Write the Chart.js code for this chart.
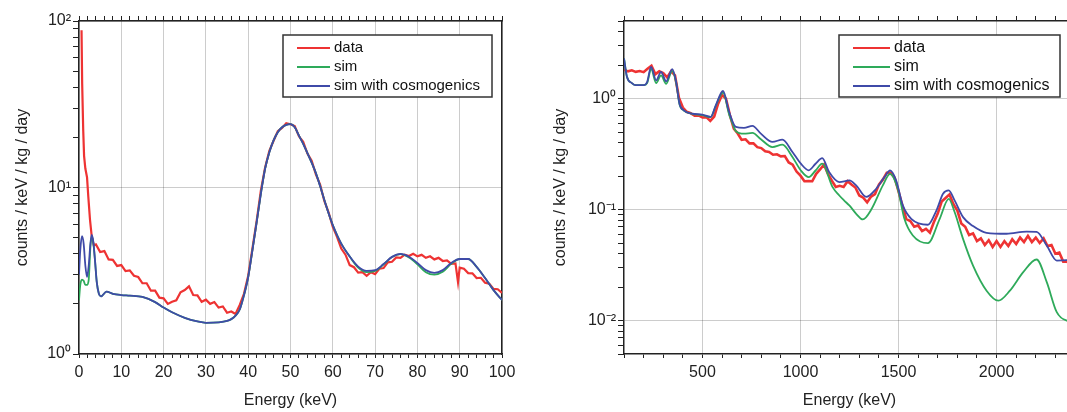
<!DOCTYPE html>
<html>
<head>
<meta charset="utf-8">
<script src="https://cdn.jsdelivr.net/npm/chart.js@4"></script>
<style>
  html, body { margin: 0; padding: 0; background: #fff; overflow: hidden; width: 1067px; height: 412px; }
  body { position: relative; }
  canvas { position: absolute; top: 0; }
  #left { left: 0; }
  #right { left: 540px; }
</style>
</head>
<body>
<canvas id="left" width="530" height="412"></canvas>
<canvas id="right" width="540" height="412"></canvas>
<script>
// ---- left panel: 0-100 keV ----
const leftDataE = [0.6, 0.75, 1.0, 1.2, 1.5, 1.9, 2.2, 2.6, 3.0, 3.5,
  4, 5, 6, 7, 8, 9, 10, 11, 12, 13, 14, 15, 16, 17, 18, 19, 20, 21, 22, 23, 24, 25, 26, 27, 28, 29,
  30, 31, 32, 33, 34, 35, 36, 37, 38, 39, 40, 41, 42, 43, 44, 45, 46, 47, 48, 49, 50, 51, 52, 53, 54,
  55, 56, 57, 58, 59, 60, 61, 62, 63, 64, 65, 66, 67, 68, 69, 70, 71, 72, 73, 74, 75, 76, 77, 78, 79,
  80, 81, 82, 83, 84, 85, 86, 87, 88, 89, 89.6, 90, 91, 92, 93, 94, 95, 96, 97, 98, 99, 100];
const leftDataY = [88, 42, 22, 15.5, 13.0, 11.5, 8.8, 6.4, 5.1, 4.5,
  4.55, 4.1, 4.15, 3.7, 3.68, 3.38, 3.42, 3.15, 3.18, 2.95, 2.9, 2.66, 2.66, 2.4, 2.4, 2.18, 2.16, 2.0, 2.06, 2.1, 2.35, 2.42, 2.55, 2.26, 2.25, 2.06,
  2.12, 2.0, 2.05, 1.9, 1.93, 1.77, 1.8, 1.74, 1.97, 2.3, 2.95, 4.3, 6.3, 9.6, 13.2, 16.6, 19.1, 21.8, 22.8, 24.3, 24.0, 23.4, 20.3, 18.8, 16.0,
  14.5, 12.0, 10.4, 8.3, 7.1, 5.8, 5.05, 4.3, 3.95, 3.42, 3.32, 3.08, 3.1, 2.95, 3.1, 3.02, 3.25, 3.28, 3.55, 3.58, 3.8, 3.78, 3.95, 3.88, 4.0,
  3.86, 3.94, 3.78, 3.86, 3.7, 3.78, 3.62, 3.65, 3.48, 3.5, 2.7, 3.3, 3.25, 3.06, 3.05, 2.86, 2.87, 2.68, 2.64, 2.46, 2.45, 2.33];

const leftSimE = [0, 0.3, 0.7, 1.1, 1.5, 1.9, 2.3, 2.7, 3.0, 3.4, 3.8, 4.2, 4.7, 5.2, 6.5, 8, 10, 12, 15, 18,
  20, 22, 25, 28, 30, 33, 35, 36, 37, 38, 39, 40, 41, 42, 43, 44, 45, 46, 47, 48, 49, 50, 51, 52, 53, 54,
  55, 56, 57, 58, 59, 60, 62, 64, 66, 68, 70, 72, 74, 76, 78, 80, 82, 84, 86, 88, 90, 92, 94, 96, 98, 100];
const leftSimY = [2.1, 2.6, 2.8, 2.75, 2.6, 2.6, 2.8, 4.4, 5.1, 4.6, 3.6, 2.7, 2.3, 2.22, 2.37, 2.3, 2.26, 2.24, 2.2, 2.05,
  1.9, 1.78, 1.65, 1.57, 1.54, 1.55, 1.58, 1.62, 1.7, 1.85, 2.25, 2.9, 4.2, 6.2, 9.2, 13, 16.3, 19.2, 21.5, 23, 23.8, 24, 23, 20.5, 18.3, 16.1,
  14.1, 12.2, 10.2, 8.4, 7.0, 5.95, 4.6, 3.85, 3.3, 3.1, 3.15, 3.45, 3.82, 3.98, 3.8, 3.46, 3.1, 3.0, 3.12, 3.48, 3.72, 3.72, 3.34, 2.86, 2.42, 2.11];
const leftCosmoE = leftSimE;
const leftCosmoY = [3.0, 4.2, 5.1, 4.6, 3.4, 2.9, 3.4, 4.6, 5.2, 4.7, 3.6, 2.7, 2.3, 2.22, 2.37, 2.3, 2.26, 2.24, 2.2, 2.05,
  1.9, 1.78, 1.65, 1.57, 1.54, 1.55, 1.58, 1.62, 1.7, 1.85, 2.25, 2.9, 4.2, 6.2, 9.2, 13, 16.3, 19.2, 21.5, 23, 23.8, 24, 23, 20.5, 18.3, 16.1,
  14.1, 12.2, 10.2, 8.4, 7.0, 5.95, 4.6, 3.85, 3.35, 3.16, 3.19, 3.47, 3.83, 3.99, 3.84, 3.52, 3.19, 3.07, 3.19, 3.52, 3.72, 3.72, 3.34, 2.86, 2.42, 2.11];

const leftXMajor = [0, 10, 20, 30, 40, 50, 60, 70, 80, 90, 100];
const leftYTicks = [1, 2, 3, 4, 5, 6, 7, 8, 9, 10, 20, 30, 40, 50, 60, 70, 80, 90, 100];

// ---- right panel: 100-2400 keV ----
const rightDataE = [100, 120, 140, 160, 180, 200, 220, 240, 260, 280, 300, 320, 340, 360, 380, 400, 420, 440, 460, 480,
  500, 520, 540, 560, 580, 600, 620, 640, 660, 680, 700, 720, 740, 760, 780, 800, 820, 840, 860, 880,
  900, 920, 940, 960, 980, 1000, 1020, 1040, 1060, 1080, 1100, 1120, 1140, 1160, 1180, 1200, 1220, 1240, 1260, 1280,
  1300, 1320, 1340, 1360, 1380, 1400, 1420, 1440, 1460, 1480, 1500, 1520, 1540, 1560, 1580, 1600, 1620, 1640, 1660, 1680,
  1700, 1720, 1740, 1760, 1780, 1800, 1820, 1840, 1860, 1880, 1900, 1920, 1940, 1960, 1980, 2000, 2020, 2040, 2060, 2080,
  2100, 2120, 2140, 2160, 2180, 2200, 2220, 2240, 2260, 2280, 2300, 2320, 2340, 2360, 2380, 2400];
const rightDataY = [1.82, 1.76, 1.80, 1.74, 1.77, 1.73, 1.86, 1.98, 1.66, 1.76, 1.70, 1.55, 1.76, 1.62, 1.02, 0.83, 0.76, 0.74, 0.70, 0.705,
  0.675, 0.68, 0.63, 0.69, 0.90, 1.08, 1.0, 0.71, 0.535, 0.485, 0.425, 0.43, 0.395, 0.395, 0.365, 0.358, 0.335, 0.33, 0.312, 0.315,
  0.302, 0.304, 0.266, 0.254, 0.22, 0.202, 0.18, 0.181, 0.18, 0.21, 0.23, 0.255, 0.21, 0.182, 0.16, 0.164, 0.16, 0.18, 0.168, 0.158,
  0.134, 0.128, 0.116, 0.131, 0.138, 0.168, 0.186, 0.214, 0.214, 0.194, 0.146, 0.108, 0.082, 0.079, 0.07, 0.072, 0.064, 0.067, 0.062, 0.077,
  0.092, 0.118, 0.127, 0.137, 0.112, 0.098, 0.075, 0.07, 0.059, 0.061, 0.052, 0.055, 0.048, 0.053, 0.046, 0.052, 0.046, 0.052, 0.047, 0.054,
  0.049, 0.056, 0.051, 0.058, 0.051, 0.056, 0.05, 0.055, 0.047, 0.048, 0.04, 0.041, 0.034, 0.034, 0.031, 0.032];

const rightSimE = [100, 115, 140, 160, 200, 218, 238, 264, 289, 315, 346, 366, 383, 405, 448, 499, 542, 568, 605, 636,
  653, 670, 712, 755, 798, 857, 908, 959, 1002, 1042, 1077, 1111, 1163, 1198, 1222, 1249, 1284, 1318, 1361, 1420,
  1457, 1496, 1530, 1573, 1650, 1710, 1756, 1786, 1829, 1880, 1949, 2009, 2068, 2136, 2204, 2256, 2307, 2358, 2400];
const rightSimY = [2.3, 1.57, 1.38, 1.32, 1.32, 1.38, 1.85, 1.38, 1.62, 1.36, 1.78, 1.38, 0.89, 0.78, 0.73, 0.71, 0.68, 0.86, 1.13, 0.72,
  0.60, 0.51, 0.483, 0.49, 0.43, 0.366, 0.384, 0.298, 0.225, 0.196, 0.225, 0.259, 0.16, 0.134, 0.121, 0.109, 0.0917, 0.0815, 0.1, 0.165,
  0.21, 0.154, 0.0826, 0.0584, 0.0498, 0.0826, 0.125, 0.095, 0.0545, 0.0313, 0.0186, 0.0151, 0.0186, 0.0273, 0.0355, 0.0222, 0.0119, 0.01, 0.0098];

const rightCosmoE = [100, 115, 140, 160, 200, 218, 238, 264, 289, 315, 346, 366, 383, 405, 448, 499, 542, 568, 605, 636,
  670, 712, 755, 798, 857, 908, 959, 1002, 1042, 1077, 1111, 1146, 1198, 1249, 1284, 1335, 1386, 1428, 1457, 1488,
  1522, 1565, 1650, 1693, 1727, 1756, 1786, 1829, 1880, 1949, 2051, 2153, 2204, 2256, 2307, 2358, 2400];
const rightCosmoY = [2.3, 1.57, 1.38, 1.32, 1.32, 1.41, 1.93, 1.46, 1.74, 1.43, 1.84, 1.41, 0.90, 0.784, 0.732, 0.717, 0.684, 0.87, 1.17, 0.76,
  0.555, 0.544, 0.567, 0.483, 0.407, 0.427, 0.33, 0.259, 0.226, 0.259, 0.291, 0.218, 0.177, 0.183, 0.165, 0.130, 0.154, 0.196, 0.225, 0.183,
  0.109, 0.0826, 0.073, 0.098, 0.139, 0.149, 0.121, 0.0855, 0.071, 0.0618, 0.0606, 0.0634, 0.063, 0.0474, 0.0347, 0.035, 0.036];

const rightXMajor = [500, 1000, 1500, 2000];
const rightYTicks = [0.005, 0.006, 0.007, 0.008, 0.009, 0.01, 0.02, 0.03, 0.04, 0.05, 0.06, 0.07, 0.08, 0.09,
  0.1, 0.2, 0.3, 0.4, 0.5, 0.6, 0.7, 0.8, 0.9, 1, 2, 3, 4, 5];

// minor x ticks
const leftXTicks = [];
for (let v = 0; v <= 100; v += 2) leftXTicks.push(v);
const rightXTicks = [];
for (let v = 100; v <= 2400; v += 100) rightXTicks.push(v);

const RED = '#ee3333', GREEN = '#2eaa5a', BLUE = '#3f4aa8';
const GRID = 'rgba(0,0,0,0.2)', AXIS = '#222';

Chart.defaults.font.family = '"Liberation Sans", Arial, Helvetica, sans-serif';
Chart.defaults.color = '#222';

const SUP = {'-': '\u207B', '0': '\u2070', '1': '\u00B9', '2': '\u00B2', '3': '\u00B3'};
function isPow(v) {
  const e = Math.log10(v);
  return Math.abs(e - Math.round(e)) < 1e-6;
}
function powLabel(v) {
  if (!isPow(v)) return '';
  return '10' + String(Math.round(Math.log10(v))).split('').map(c => SUP[c]).join('');
}
function pts(xs, ys) {
  return xs.map((x, i) => ({x: x, y: ys[i]}));
}

// legend box drawn inside the plot
const boxLegend = {
  id: 'boxLegend',
  afterDraw(chart, args, o) {
    const ctx = chart.ctx;
    ctx.save();
    ctx.fillStyle = '#fff';
    ctx.fillRect(o.x, o.y, o.w, o.h);
    ctx.strokeStyle = '#333';
    ctx.lineWidth = 1.5;
    ctx.strokeRect(o.x, o.y, o.w, o.h);
    ctx.font = o.size + 'px "Liberation Sans", Arial, sans-serif';
    ctx.textBaseline = 'middle';
    chart.data.datasets.forEach((ds, i) => {
      const ry = o.y + 13 + i * 19;
      ctx.strokeStyle = ds.borderColor;
      ctx.lineWidth = 2;
      ctx.beginPath();
      ctx.moveTo(o.x + 14, ry);
      ctx.lineTo(o.x + 14 + o.line, ry);
      ctx.stroke();
      ctx.fillStyle = '#111';
      ctx.fillText(ds.label, o.x + 18 + o.line, ry);
    });
    ctx.restore();
  }
};

function spectrumChart(id, o) {
  const xTicks = s => { s.ticks = o.xTicks.map(v => ({value: v})); };
  return new Chart(document.getElementById(id), {
    type: 'line',
    data: {
      datasets: [
        { label: 'data', data: pts(o.dataE, o.dataY), borderColor: RED, borderWidth: o.redWidth, tension: 0, order: 2 },
        { label: 'sim', data: pts(o.simE, o.simY), borderColor: GREEN, borderWidth: 1.8, cubicInterpolationMode: 'monotone', order: 1 },
        { label: 'sim with cosmogenics', data: pts(o.cosE, o.cosY), borderColor: BLUE, borderWidth: 1.8, cubicInterpolationMode: 'monotone', order: 0 }
      ]
    },
    options: {
      responsive: false,
      animation: false,
      elements: { point: { radius: 0 } },
      layout: { padding: 0 },
      plugins: {
        legend: { display: false },
        tooltip: { enabled: false },
        boxLegend: o.legend
      },
      scales: {
        x: {
          type: 'linear', position: 'bottom', min: o.xMin, max: o.xMax,
          afterBuildTicks: xTicks,
          afterFit: s => { s.height = 58; },
          grid: { color: c => (c.tick && o.xMajor.includes(c.tick.value)) ? GRID : 'transparent', tickColor: AXIS, tickLength: 4 },
          border: { color: AXIS, width: 1.5 },
          ticks: { autoSkip: false, maxRotation: 0, padding: 5, font: { size: 16 },
                   callback: v => o.xMajor.includes(v) ? String(v) : '' },
          title: { display: true, text: 'Energy (keV)', font: { size: 16 }, padding: { top: 0, bottom: 2 } }
        },
        x2: {
          type: 'linear', position: 'top', min: o.xMin, max: o.xMax,
          afterBuildTicks: xTicks,
          afterFit: s => { s.height = 21; },
          grid: { drawOnChartArea: false, tickColor: AXIS, tickLength: 5 },
          border: { color: AXIS, width: 1.5 },
          ticks: { display: false }
        },
        y: {
          type: 'logarithmic', min: o.yMin, max: o.yMax,
          afterBuildTicks: s => { s.ticks = o.yTicks.map(v => ({value: v})); },
          afterFit: s => { s.width = o.yWidth; },
          grid: { color: c => (c.tick && isPow(c.tick.value)) ? GRID : 'transparent', tickColor: AXIS, tickLength: 6 },
          border: { color: AXIS, width: 1.5 },
          ticks: { autoSkip: false, padding: 2, font: { size: 16 }, callback: v => powLabel(v) },
          title: { display: true, text: 'counts / keV / kg / day', font: { size: 16 }, padding: { top: o.titlePad, bottom: 0 } }
        },
        y2: {
          type: 'linear', position: 'right',
          afterFit: s => { s.width = o.rightWidth; },
          grid: { drawOnChartArea: false, drawTicks: false },
          border: { color: AXIS, width: 1.5 },
          ticks: { display: false }
        }
      }
    },
    plugins: [boxLegend]
  });
}

spectrumChart('left', {
  dataE: leftDataE, dataY: leftDataY, simE: leftSimE, simY: leftSimY, cosE: leftCosmoE, cosY: leftCosmoY,
  xMin: 0, xMax: 100, xTicks: leftXTicks, xMajor: leftXMajor,
  yMin: 1, yMax: 100, yTicks: leftYTicks,
  yWidth: 79, rightWidth: 28, titlePad: 13, redWidth: 2.2,
  legend: { x: 283, y: 35, w: 209, h: 62, line: 33, size: 15 }
});

spectrumChart('right', {
  dataE: rightDataE, dataY: rightDataY, simE: rightSimE, simY: rightSimY, cosE: rightCosmoE, cosY: rightCosmoY,
  xMin: 100, xMax: 2400, xTicks: rightXTicks, xMajor: rightXMajor,
  yMin: 0.005, yMax: 5, yTicks: rightYTicks,
  yWidth: 84, rightWidth: 5, titlePad: 11, redWidth: 2.6,
  legend: { x: 299, y: 35, w: 221, h: 62, line: 37, size: 16 }
});
</script>
</body>
</html>
